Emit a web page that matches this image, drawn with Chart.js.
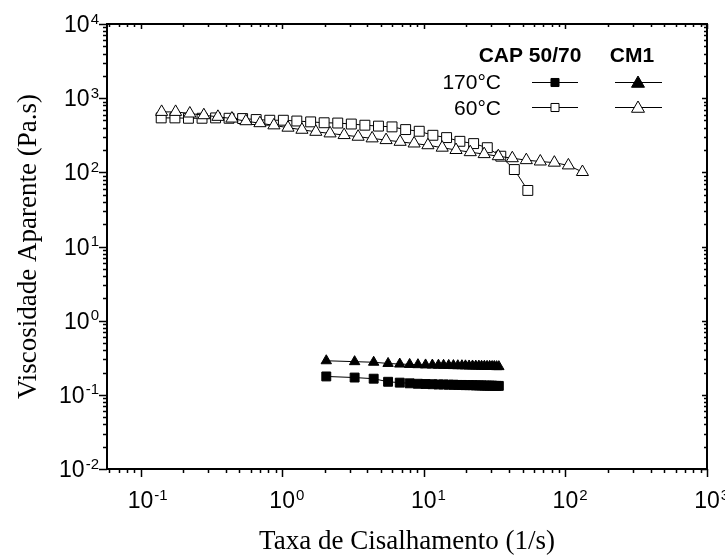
<!DOCTYPE html>
<html>
<head>
<meta charset="utf-8">
<script src="https://cdn.jsdelivr.net/npm/chart.js@4.4.0/dist/chart.umd.min.js"></script>
<style>
html,body{margin:0;padding:0;background:#fff;}
</style>
</head>
<body>
<canvas id="graf" width="725" height="559"></canvas>
<script>
// CM1 60°C (triangulos abertos)
var cm1_60_x = [0.141,0.177,0.223,0.280,0.352,0.442,0.555,0.697,0.875,1.10,1.38,1.73,2.18,2.74,3.44,4.32,5.42,6.81,8.55,10.7,13.5,16.9,21.3,26.7,33.6,42.2,53.0,66.5,83.6,105,132];
var cm1_60_y = [653,653,621,589,560,531,489,460,430,400,375,352,335,318,302,287,272,258,245,232,215,200,187,176,165,155,146,140,135,124,101];

// CAP 50/70 60°C (quadrados abertos)
var cap_60_x = [0.140,0.175,0.218,0.272,0.339,0.422,0.526,0.656,0.818,1.02,1.27,1.59,1.98,2.47,3.08,3.84,4.79,5.97,7.45,9.29,11.6,14.5,18.0,22.5,28.1,35.0,43.6,54.3];
var cap_60_y = [542,542,536,536,542,536,531,515,504,504,492,479,466,462,448,432,420,410,377,358,316,294,262,244,215,165,109,57];

// 170°C (mesmas taxas para os dois)
var taxa_170 = [2.05,3.25,4.43,5.6,6.77,7.95,9.1,10.3,11.5,12.7,13.8,15.0,16.2,17.4,18.6,19.7,20.9,22.1,23.3,24.5,25.6,26.8,28.0,29.2,30.4,31.5,32.7,33.9];
var cm1_170_y = [0.288,0.280,0.275,0.265,0.260,0.257,0.255,0.253,0.252,0.251,0.250,0.249,0.248,0.247,0.247,0.246,0.245,0.245,0.244,0.244,0.243,0.243,0.242,0.242,0.241,0.241,0.240,0.240];
var cap_170_y = [0.177,0.171,0.165,0.150,0.146,0.143,0.141,0.140,0.139,0.138,0.138,0.137,0.137,0.136,0.136,0.135,0.135,0.135,0.134,0.134,0.134,0.133,0.133,0.133,0.133,0.132,0.132,0.132];

// eixos
var xTicks = [0.1, 1, 10, 100, 1000];
var xExp = ['-1', '0', '1', '2', '3'];
var yTicks = [0.01, 0.1, 1, 10, 100, 1000, 10000];
var yExp = ['-2', '-1', '0', '1', '2', '3', '4'];

var sans = '"Liberation Sans", Arial, sans-serif';
var serif = '"Liberation Serif", "Times New Roman", serif';

function pts(xs, ys) {
    return xs.map(function(x, i) { return {x: x, y: ys[i]}; });
}

function ponto(ctx, estilo, r, x, y, cheio) {
    ctx.fillStyle = cheio ? '#000' : '#fff';
    ctx.strokeStyle = '#000';
    ctx.lineWidth = 1;
    Chart.helpers.drawPoint(ctx, {pointStyle: estilo, radius: r, rotation: 0, borderWidth: 1}, x, y);
}

function pot(ctx, exp, x, base, alinhar) {
    ctx.font = '23px ' + sans;
    var w10 = ctx.measureText('10').width;
    ctx.font = '15px ' + sans;
    var ws = ctx.measureText(exp).width;
    var x0 = alinhar === 'centro' ? x - w10 / 2 : x - w10 - ws;
    ctx.textAlign = 'left';
    ctx.textBaseline = 'alphabetic';
    ctx.font = '23px ' + sans;
    ctx.fillText('10', x0, base);
    ctx.font = '15px ' + sans;
    ctx.fillText(exp, x0 + w10 + 1, base - 8.5);
}

var eixos = {
    id: 'eixos',
    afterDraw: function(chart) {
        var ctx = chart.ctx, a = chart.chartArea;
        var sx = chart.scales.x, sy = chart.scales.y;
        ctx.save();
        ctx.strokeStyle = '#000';
        ctx.fillStyle = '#000';
        ctx.lineWidth = 2;
        ctx.strokeRect(a.left, a.top, a.right - a.left, a.bottom - a.top);

        var e, k, v, p, maior;
        ctx.beginPath();
        for (e = -2; e <= 3; e++) {
            for (k = 1; k <= 9; k++) {
                v = k * Math.pow(10, e);
                if (v < sx.min || v > sx.max) continue;
                p = Math.round(sx.getPixelForValue(v)) + 0.5;
                maior = k === 1;
                ctx.moveTo(p, a.bottom); ctx.lineTo(p, a.bottom + (maior ? 8 : 4));
                ctx.moveTo(p, a.top); ctx.lineTo(p, a.top + (maior ? 5 : 3));
            }
        }
        for (e = -2; e <= 4; e++) {
            for (k = 1; k <= 9; k++) {
                v = k * Math.pow(10, e);
                if (v < sy.min || v > sy.max) continue;
                p = Math.round(sy.getPixelForValue(v)) + 0.5;
                maior = k === 1;
                ctx.moveTo(a.left, p); ctx.lineTo(a.left - (maior ? 8 : 4), p);
                ctx.moveTo(a.right, p); ctx.lineTo(a.right - (maior ? 5 : 3), p);
            }
        }
        ctx.lineWidth = 1.5;
        ctx.stroke();

        xTicks.forEach(function(t, i) {
            pot(ctx, xExp[i], sx.getPixelForValue(t), 508, 'centro');
        });
        yTicks.forEach(function(t, i) {
            pot(ctx, yExp[i], 98, sy.getPixelForValue(t) + 8, 'direita');
        });

        // legenda
        ctx.textBaseline = 'alphabetic';
        ctx.font = 'bold 21px ' + sans;
        ctx.textAlign = 'center';
        ctx.fillText('CAP 50/70', 530, 62);
        ctx.fillText('CM1', 632, 62);
        ctx.font = '21px ' + sans;
        ctx.textAlign = 'right';
        ctx.fillText('170°C', 501, 89);
        ctx.fillText('60°C', 501, 115);
        var linhas = [[82.5, true], [107.5, false]];
        linhas.forEach(function(l) {
            ctx.strokeStyle = '#000';
            ctx.lineWidth = 1;
            ctx.beginPath();
            ctx.moveTo(532, l[0]); ctx.lineTo(578, l[0]);
            ctx.moveTo(615, l[0]); ctx.lineTo(662, l[0]);
            ctx.stroke();
            ponto(ctx, 'rect', 5.7, 555, l[0], l[1]);
            ponto(ctx, 'triangle', 7.5, 638, l[0] + 1, l[1]);
        });
        ctx.restore();
    }
};

var ctx = document.getElementById('graf').getContext('2d');
var graf = new Chart(ctx, {
    type: 'scatter',
    data: {
        datasets: [{
            label: 'CM1 60°C',
            data: pts(cm1_60_x, cm1_60_y),
            pointStyle: 'triangle',
            pointRadius: 7,
            backgroundColor: '#fff',
            order: 1
        }, {
            label: 'CAP 50/70 60°C',
            data: pts(cap_60_x, cap_60_y),
            pointStyle: 'rect',
            pointRadius: 7,
            backgroundColor: '#fff',
            order: 2
        }, {
            label: 'CM1 170°C',
            data: pts(taxa_170, cm1_170_y),
            pointStyle: 'triangle',
            pointRadius: 6,
            backgroundColor: '#000',
            order: 3
        }, {
            label: 'CAP 50/70 170°C',
            data: pts(taxa_170, cap_170_y),
            pointStyle: 'rect',
            pointRadius: 6.3,
            backgroundColor: '#000',
            order: 4
        }]
    },
    options: {
        responsive: false,
        animation: false,
        showLine: true,
        datasets: {
            scatter: {
                borderColor: '#000',
                borderWidth: 1,
                pointBorderWidth: 1,
                pointBorderColor: '#000',
                pointHoverRadius: 7
            }
        },
        layout: {padding: {left: 0, right: 18, top: 24, bottom: 0}},
        plugins: {legend: {display: false}, tooltip: {enabled: false}},
        scales: {
            x: {
                type: 'logarithmic',
                min: 0.058,
                max: 1000,
                grid: {display: false},
                border: {display: false},
                ticks: {display: false},
                title: {
                    display: true,
                    text: 'Taxa de Cisalhamento (1/s)',
                    color: '#000',
                    font: {family: serif, size: 27},
                    padding: {top: 0, bottom: 1}
                },
                afterFit: function(s) { s.height = 90; }
            },
            y: {
                type: 'logarithmic',
                min: 0.01,
                max: 10000,
                grid: {display: false},
                border: {display: false},
                ticks: {display: false},
                title: {
                    display: true,
                    text: 'Viscosidade Aparente (Pa.s)',
                    color: '#000',
                    font: {family: serif, size: 27},
                    padding: {top: 13, bottom: 0}
                },
                afterFit: function(s) { s.width = 107; }
            }
        }
    },
    plugins: [eixos]
});
</script>
</body>
</html>
